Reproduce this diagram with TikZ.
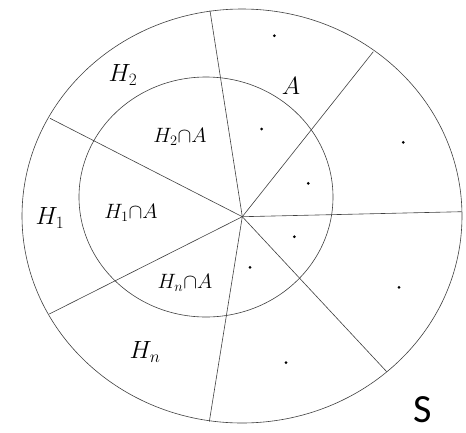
\documentclass[tikz,border=0pt]{standalone}
\usepackage{fontspec}
\newfontfamily\sfont{Carlito}
\begin{document}
\begin{tikzpicture}[x=1pt,y=-1pt,
  lin/.style={draw=black!75, line width=0.6pt},
  dotm/.style={fill=black, circle, inner sep=0pt, minimum size=3pt},
  big/.style={font=\fontsize{24}{28}\selectfont},
  small/.style={font=\fontsize{20}{24}\selectfont}]
\useasboundingbox[fill=white] (0,0) rectangle (466,432);
\coordinate (O) at (242.3,216.7);
\coordinate (r1) at (210,10.7);
\coordinate (r2) at (373.3,51.7);
\coordinate (r3) at (461.7,211.7);
\coordinate (r4) at (386.7,371.7);
\coordinate (r5) at (209.3,421.7);
\coordinate (r6) at (49.3,314);
\coordinate (r7) at (50,118.3);
\draw[lin] (242,216) ellipse [x radius=220pt, y radius=207pt];
\draw[lin] (206,197) ellipse [x radius=127pt, y radius=120pt];
\foreach \r in {r1,r2,r3,r4,r5,r6,r7} \draw[lin] (O) -- (\r);
\foreach \p [count=\i] in {(274.3,35.7),(261.7,129),(403.3,142.3),(308.3,183.3),(294.3,236.7),(250,267.3),(399,287.3),(286,362.7)}
  \node[dotm] (d\i) at \p {};
\node[big] (h2) at (123,75) {$H_2$};
\node[big] (a) at (291,86) {$A$};
\node[small] (h2a) at (180,137) {$H_2{\cap}A$};
\node[big] (h1) at (50,218) {$H_1$};
\node[small] (h1a) at (131,213) {$H_1{\cap}A$};
\node[small] (hna) at (185,283) {$H_n{\cap}A$};
\node[big] (hn) at (145,352) {$H_n$};
\node[font=\sfont\fontsize{40}{44}\selectfont] (s) at (423,410) {S};
\end{tikzpicture}
\end{document}
